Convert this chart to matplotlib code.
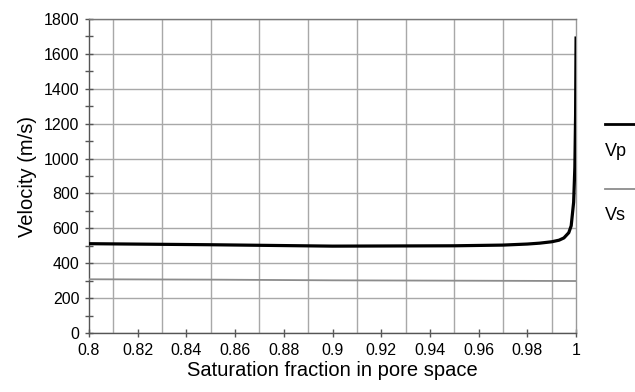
import matplotlib
matplotlib.use("Agg")
import matplotlib.pyplot as plt
from matplotlib.lines import Line2D
from matplotlib.ticker import MultipleLocator, FixedLocator

plt.rcParams['font.family'] = ['Liberation Sans', 'DejaVu Sans']

# saturation vs velocity
sat = [0.8, 0.85, 0.9, 0.95, 0.97, 0.98, 0.985, 0.99, 0.993, 0.995,
       0.997, 0.998, 0.999, 0.9995, 0.9998, 1.0]
vp = [512, 506, 498, 500, 504, 510, 515, 523, 532, 545,
      575, 615, 750, 950, 1250, 1700]
vs_sat = [0.8, 0.85, 0.9, 0.95, 1.0]
vs = [308, 306, 302, 300, 298]

x_ticks = [0.8, 0.82, 0.84, 0.86, 0.88, 0.9, 0.92, 0.94, 0.96, 0.98, 1.0]
x_labels = ['0.8', '0.82', '0.84', '0.86', '0.88', '0.9',
            '0.92', '0.94', '0.96', '0.98', '1']
x_grid = [0.81, 0.83, 0.85, 0.87, 0.89, 0.91, 0.93, 0.95, 0.97, 0.99]

fig = plt.figure(figsize=(6.35, 3.92), dpi=100)
ax = fig.add_axes([0.1402, 0.1505, 0.767, 0.801])

ax.plot(vs_sat, vs, color='#8c8c8c', lw=1.3, zorder=3)
ax.plot(sat, vp, color='k', lw=2.3, zorder=4, solid_capstyle='butt')

ax.set_xlim(0.8, 1.0)
ax.set_ylim(0, 1800)

ax.xaxis.set_major_locator(FixedLocator(x_ticks))
ax.set_xticklabels(x_labels)
ax.xaxis.set_minor_locator(FixedLocator(x_grid))
ax.yaxis.set_major_locator(MultipleLocator(200))
ax.yaxis.set_minor_locator(MultipleLocator(100))

ax.tick_params(axis='both', which='major', direction='inout', length=6,
               width=1, color='#555555', labelsize=11.5, pad=4)
ax.tick_params(axis='x', which='minor', length=0)
ax.tick_params(axis='y', which='minor', direction='inout', length=6,
               width=1, color='#555555')

# grid: x on odd hundredths, y on majors
ax.grid(True, axis='x', which='minor', color='#a8a8a8', lw=1)
ax.grid(True, axis='y', which='major', color='#a8a8a8', lw=1)
ax.set_axisbelow(True)

ax.spines['left'].set_color('#555555')
ax.spines['bottom'].set_color('#555555')
ax.spines['top'].set_color('#777777')
ax.spines['right'].set_color('#999999')
for s in ax.spines.values():
    s.set_linewidth(1)

ax.set_xlabel('Saturation fraction in pore space', fontsize=14.5, labelpad=2)
ax.set_ylabel('Velocity (m/s)', fontsize=14.5, labelpad=5)

# legend off to the right: line above each label
fig.add_artist(Line2D([605 / 635, 1.0], [1 - 124 / 392] * 2,
                      color='k', lw=2, transform=fig.transFigure))
fig.text(605 / 635, 1 - 152 / 392, 'Vp', fontsize=13, va='center', ha='left')
fig.add_artist(Line2D([605 / 635, 1.0], [1 - 189 / 392] * 2,
                      color='#8c8c8c', lw=1.3, transform=fig.transFigure))
fig.text(605 / 635, 1 - 215 / 392, 'Vs', fontsize=13, va='center', ha='left')

plt.savefig('out.png', dpi=100)
